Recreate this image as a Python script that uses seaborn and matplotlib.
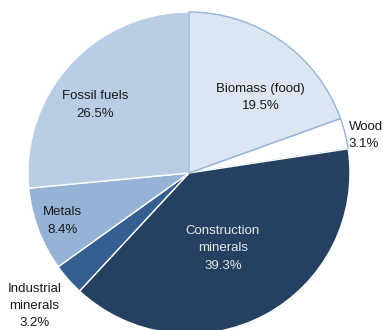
import matplotlib
matplotlib.use('Agg')
import matplotlib.pyplot as plt
import seaborn as sns
import numpy as np

categories = ['Biomass (food)', 'Wood', 'Construction\nminerals', 'Industrial\nminerals', 'Metals', 'Fossil fuels']
shares = [19.5, 3.1, 39.3, 3.2, 8.4, 26.5]
colors = ['#DCE6F2', '#FFFFFF', '#254061', '#355F91', '#95B3D7', '#B9CDE5']
edge_colors = ['#95B3D7', '#95B3D7', 'white', 'white', 'white', 'white']
text_colors = ['#1a1a1a', '#1a1a1a', '#E6E6E6', '#1a1a1a', '#1a1a1a', '#1a1a1a']

sns.set_theme(style='white')
plt.rcParams['font.family'] = ['Liberation Sans Narrow', 'Liberation Sans', 'DejaVu Sans']

fig = plt.figure(figsize=(3.83, 3.30), dpi=100)
ax = fig.add_axes([0, 0, 1, 1])

cx, cy, r = 189, 157, 161
wedges, _ = ax.pie(shares, colors=colors, startangle=90, counterclock=False,
                   center=(cx, cy), radius=r, frame=True,
                   wedgeprops=dict(linewidth=1.0))
for w, ec in zip(wedges, edge_colors):
    w.set_edgecolor(ec)
# biomass on top so its blue outline shows fully
wedges[0].set_zorder(3)
ax.set_xlim(0, 383)
ax.set_ylim(0, 330)
ax.set_aspect('equal')
ax.axis('off')

# label positions (axes fraction) and alignment
label_pos = [(0.68, 0.705, 'center'), (0.91, 0.59, 'left'), (0.582, 0.248, 'center'),
             (0.09, 0.073, 'center'), (0.162, 0.33, 'center'), (0.248, 0.682, 'center')]
for name, val, tc, (x, y, ha) in zip(categories, shares, text_colors, label_pos):
    ax.text(x, y, f'{name}\n{val}%', transform=ax.transAxes, ha=ha, va='center',
            fontsize=9.5, color=tc, linespacing=1.6)

fig.savefig('out.png', dpi=100)
